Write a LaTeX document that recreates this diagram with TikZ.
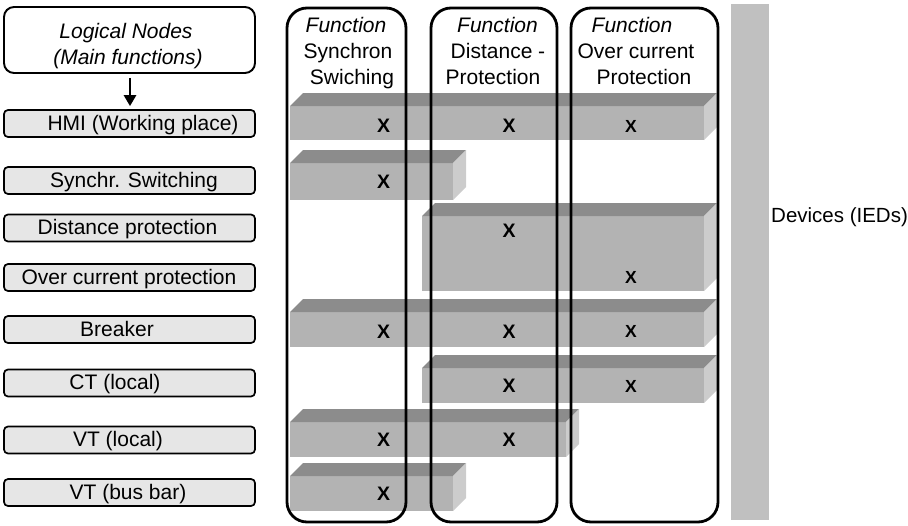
\documentclass[tikz,border=0pt]{standalone}
\usepackage{fontspec}
\setmainfont{Liberation Sans}
\usetikzlibrary{arrows.meta}
\definecolor{boxfill}{HTML}{E6E6E6}
\definecolor{frontf}{HTML}{B3B3B3}
\definecolor{topf}{HTML}{8C8C8C}
\definecolor{sidef}{HTML}{CCCCCC}
\definecolor{devbar}{HTML}{C0C0C0}
\newcommand\slab[4]{%
  \fill[frontf] (#1,#2) rectangle (#3,#4);
  \fill[topf] (#1,#2) -- ({#1+13},{#2-13}) -- ({#3+13},{#2-13}) -- (#3,#2) -- cycle;
  \fill[sidef] (#3,#2) -- ({#3+13},{#2-13}) -- ({#3+13},{#4-13}) -- (#3,#4) -- cycle;
}
\begin{document}
\begin{tikzpicture}[x=1pt,y=-1pt,
  lnbox/.style={draw, line width=1.7pt, rounded corners=4pt, fill=boxfill,
    minimum width=251pt, minimum height=27pt, inner sep=0pt},
  topbox/.style={draw, line width=1.9pt, rounded corners=10pt, fill=white,
    minimum width=251pt, minimum height=66pt, inner sep=0pt},
  colbox/.style={draw, line width=2.8pt, rounded corners=20pt,
    minimum height=514pt, inner sep=0pt},
  lbl/.style={font=\fontsize{21pt}{25pt}\selectfont, inner sep=0pt, anchor=base},
  ilbl/.style={font=\fontsize{21pt}{25pt}\selectfont\itshape, inner sep=0pt, anchor=base},
  xmark/.style={font=\fontsize{19.5pt}{22pt}\selectfont\bfseries, inner sep=0pt},
  xsmall/.style={font=\fontsize{17.5pt}{20pt}\selectfont\bfseries, inner sep=0pt},
  arr/.style={line width=2.6pt, -{Triangle[length=11pt,width=12pt]}}
]
\useasboundingbox (0,0) rectangle (908,525);

% device bar
\fill[devbar] (731,4) rectangle (769,520);
\node[font=\fontsize{20.5pt}{25pt}\selectfont, inner sep=0pt, anchor=west] (dev) at (771,217) {Devices (IEDs)};

% left boxes
\node[topbox] (ln) at (129.5,40) {};
\node[ilbl] (ln1) at (126,38) {Logical Nodes};
\node[ilbl] (ln2) at (128,64) {(Main functions)};

\node[lnbox] (hmi) at (129.5,123.5) {};
\node[lnbox] (syn) at (129.5,180.5) {};
\node[lnbox] (dis) at (129.5,228) {};
\node[lnbox] (ovc) at (129.5,277.5) {};
\node[lnbox] (brk) at (129.5,329.5) {};
\node[lnbox] (ct)  at (129.5,383) {};
\node[lnbox] (vtl) at (129.5,440) {};
\node[lnbox] (vtb) at (129.5,492.5) {};

\node[lbl] (thmi) at (143,130) {HMI (Working place)};
\node[lbl] (tsyn) at (134,187) {Synchr. Switching};
\node[lbl] (tdis) at (127.5,234.5) {Distance protection};
\node[lbl] (tovc) at (129,284) {Over current protection};
\node[lbl] (tbrk) at (117,336) {Breaker};
\node[lbl] (tct)  at (115,389.5) {CT (local)};
\node[lbl] (tvtl) at (118,446.5) {VT (local)};
\node[lbl] (tvtb) at (128,499) {VT (bus bar)};

\draw[arr, shorten <=4pt, shorten >=3pt] ([xshift=0.5pt]ln.south) -- ([xshift=0.5pt]hmi.north);

% device slabs
\slab{290}{106}{704}{140}
\slab{290}{163}{453}{200}
\slab{422}{216}{704}{291}
\slab{290}{312}{704}{347}
\slab{422}{368}{704}{403}
\slab{290}{422}{566}{457}
\slab{290}{476}{453}{511}

% function columns
\node[colbox, minimum width=119pt] (c1) at (346.5,265) {};
\node[colbox, minimum width=126pt] (c2) at (494,265) {};
\node[colbox, minimum width=147pt] (c3) at (644.5,265) {};

\node[ilbl] (c1a) at (346,32) {Function};
\node[lbl]  (c1b) at (348,58) {Synchron};
\node[lbl]  (c1c) at (352,84) {Swiching};
\node[ilbl] (c2a) at (497.5,32) {Function};
\node[lbl]  (c2b) at (498,58) {Distance -};
\node[lbl]  (c2c) at (493,84) {Protection};
\node[ilbl] (c3a) at (632,32) {Function};
\node[lbl]  (c3b) at (636,58) {Over current};
\node[lbl]  (c3c) at (644,84) {Protection};

% X marks
\node[xmark] (x11) at (383.5,126) {X};
\node[xmark] (x12) at (509,126) {X};
\node[xsmall] (x13) at (631,126) {X};
\node[xmark] (x21) at (383.5,182) {X};
\node[xmark] (x32) at (509,231) {X};
\node[xsmall] (x43) at (631,277) {X};
\node[xmark] (x51) at (383.5,331.5) {X};
\node[xmark] (x52) at (509,331.5) {X};
\node[xsmall] (x53) at (631,331.5) {X};
\node[xmark] (x62) at (509,386) {X};
\node[xsmall] (x63) at (631,386) {X};
\node[xmark] (x71) at (383.5,440) {X};
\node[xmark] (x72) at (509,440) {X};
\node[xmark] (x81) at (383.5,493.5) {X};
\end{tikzpicture}
\end{document}
